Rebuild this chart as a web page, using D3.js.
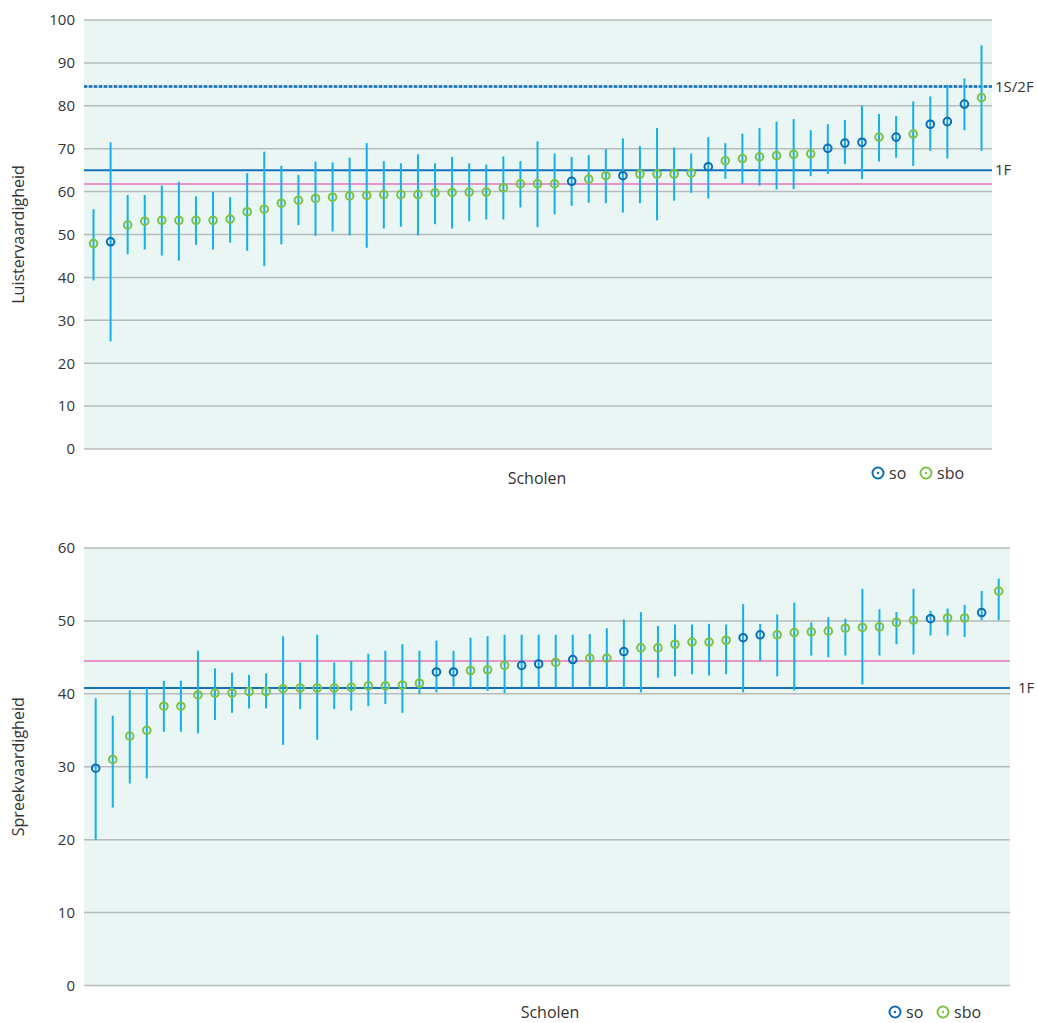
<!DOCTYPE html>
<html><head><meta charset="utf-8">
<script src="https://cdn.jsdelivr.net/npm/d3@7"></script>
<style>body{margin:0;background:#fff;}text{font-family:"Open Sans",sans-serif;fill:#333;}</style>
</head><body>
<svg id="c" width="1037" height="1023"></svg>
<script>
// ---- Data: Luistervaardigheid (top) ----
const luisterMean = [47.9,48.3,52.2,53.1,53.3,53.3,53.3,53.3,53.6,55.3,55.9,57.3,58.0,58.4,58.7,59.0,59.1,59.3,59.3,59.3,59.7,59.8,59.9,59.9,60.9,61.8,61.8,61.8,62.4,62.9,63.7,63.7,64.1,64.1,64.1,64.3,65.8,67.2,67.7,68.1,68.4,68.7,68.8,70.1,71.3,71.5,72.7,72.7,73.4,75.7,76.3,80.4,81.9];
const luisterLow  = [39.3,25.1,45.4,46.5,45.1,43.9,47.6,46.5,48.1,46.2,42.6,47.7,52.2,49.7,50.7,49.8,46.9,51.4,51.8,49.8,52.4,51.4,53.1,53.5,53.5,56.3,51.7,54.7,56.7,57.4,57.3,55.1,57.3,53.3,57.9,59.7,58.4,63.0,61.8,61.4,60.5,60.6,63.6,64.1,66.4,62.9,67.0,67.9,66.0,69.5,67.7,74.3,69.5];
const luisterHigh = [55.9,71.5,59.2,59.2,61.4,62.3,58.9,59.9,58.7,64.3,69.3,66.0,63.9,67.0,66.8,67.9,71.3,67.1,66.6,68.7,66.6,68.1,66.6,66.3,68.2,67.1,71.7,68.9,68.1,68.5,69.9,72.4,70.6,74.8,70.3,68.9,72.7,71.3,73.5,74.8,76.3,76.9,74.3,75.7,76.7,80.0,78.1,77.6,81.0,82.2,84.9,86.4,94.1];
const luisterType = ["sbo","so","sbo","sbo","sbo","sbo","sbo","sbo","sbo","sbo","sbo","sbo","sbo","sbo","sbo","sbo","sbo","sbo","sbo","sbo","sbo","sbo","sbo","sbo","sbo","sbo","sbo","sbo","so","sbo","sbo","so","sbo","sbo","sbo","sbo","so","sbo","sbo","sbo","sbo","sbo","sbo","so","so","so","sbo","so","sbo","so","so","so","sbo"];
const luisterRefs = [{label:"1S/2F", value:84.5, kind:"dash"},{label:"1F", value:65.0, kind:"solid"},{label:"", value:61.8, kind:"pink"}];
const luisterTicks = [0,10,20,30,40,50,60,70,80,90,100];

// ---- Data: Spreekvaardigheid (bottom) ----
const spreekMean = [29.8,31.0,34.2,35.0,38.3,38.3,39.85,40.1,40.1,40.3,40.3,40.7,40.8,40.8,40.8,40.9,41.1,41.1,41.2,41.45,43.0,43.0,43.2,43.3,43.9,43.9,44.1,44.3,44.7,44.9,44.9,45.8,46.3,46.3,46.8,47.1,47.1,47.35,47.7,48.1,48.1,48.4,48.5,48.6,49.0,49.1,49.2,49.8,50.1,50.3,50.4,50.4,51.15,54.1];
const spreekLow  = [20.0,24.4,27.7,28.4,34.8,34.8,34.6,36.4,37.4,38.0,38.0,33.0,37.9,33.7,37.9,37.7,38.3,38.6,37.4,40.0,40.2,41.0,40.8,40.4,40.1,40.9,40.9,40.9,40.9,41.0,40.8,40.8,40.2,42.2,42.4,42.7,42.5,42.7,40.2,44.5,42.4,40.45,45.25,45.0,45.25,41.3,45.25,46.8,45.4,48.0,48.0,47.8,50.1,50.1];
const spreekHigh = [39.4,37.0,40.5,40.8,41.8,41.8,45.9,43.5,42.9,42.6,42.8,47.9,44.3,48.1,44.3,44.5,45.5,45.9,46.8,45.9,47.3,45.9,47.7,47.9,48.1,48.1,48.1,48.1,48.1,48.2,49.0,50.2,51.2,49.3,49.5,49.5,49.6,49.5,52.3,49.6,50.9,52.5,49.8,50.5,50.3,54.4,51.6,51.2,54.4,51.4,51.7,52.2,54.1,55.8];
const spreekType = ["so","sbo","sbo","sbo","sbo","sbo","sbo","sbo","sbo","sbo","sbo","sbo","sbo","sbo","sbo","sbo","sbo","sbo","sbo","sbo","so","so","sbo","sbo","sbo","so","so","sbo","so","sbo","sbo","so","sbo","sbo","sbo","sbo","sbo","sbo","so","so","sbo","sbo","sbo","sbo","sbo","sbo","sbo","sbo","sbo","so","sbo","sbo","so","sbo"];
const spreekRefs = [{label:"1F", value:40.8, kind:"solid"},{label:"", value:44.5, kind:"pink"}];
const spreekTicks = [0,10,20,30,40,50,60];

const legendItems = ["so","sbo"];
const colors = {so:"#0b6db3", sbo:"#7cc13f", whisker:"#12b0ec", grid:"#b7bbbb", bg:"#eaf6f4", ref:"#1670b8", pink:"#eb92c6", dashLight:"#9cc3e6"};

const svg = d3.select("#c");

function drawChart(cfg){
  const {mean, low, high, type, refs, ticks, yMax, x0, x1, y0, y1, xr0, xr1, title, legendX, legendY, scholenX, scholenY, refLabelX} = cfg;
  const g = svg.append("g");
  const y = d3.scaleLinear().domain([0, yMax]).range([y1, y0]);
  const x = d3.scalePoint().domain(d3.range(mean.length)).range([xr0, xr1]);

  g.append("rect").attr("x", x0).attr("y", y0).attr("width", x1 - x0).attr("height", y1 - y0).attr("fill", colors.bg);

  g.selectAll(".grid").data(ticks).enter().append("line")
    .attr("x1", x0).attr("x2", x1).attr("y1", d => y(d)).attr("y2", d => y(d))
    .attr("stroke", colors.grid).attr("stroke-width", 1.5);

  const axis = d3.axisLeft(y).tickValues(ticks).tickSize(0).tickPadding(9);
  const ax = g.append("g").attr("transform", `translate(${x0},0)`).call(axis);
  ax.select(".domain").remove();
  ax.selectAll("text").style("font-size", "15px").style("font-family", '"Open Sans",sans-serif').attr("fill", "#333");

  refs.forEach(r => {
    const yy = y(r.value);
    if (r.kind === "dash") {
      g.append("line").attr("x1", x0).attr("x2", x1).attr("y1", yy).attr("y2", yy).attr("stroke", colors.dashLight).attr("stroke-width", 2.5);
      g.append("line").attr("x1", x0).attr("x2", x1).attr("y1", yy).attr("y2", yy).attr("stroke", colors.ref).attr("stroke-width", 2.5).attr("stroke-dasharray", "3,2");
    } else {
      g.append("line").attr("x1", x0).attr("x2", x1).attr("y1", yy).attr("y2", yy)
        .attr("stroke", r.kind === "pink" ? colors.pink : colors.ref).attr("stroke-width", 2);
    }
    if (r.label) {
      g.append("text").attr("x", refLabelX).attr("y", yy).attr("dy", "0.35em").style("font-size", "15px").text(r.label);
    }
  });

  g.selectAll(".wh").data(mean).enter().append("line")
    .attr("x1", (d,i) => x(i)).attr("x2", (d,i) => x(i))
    .attr("y1", (d,i) => y(high[i])).attr("y2", (d,i) => y(low[i]))
    .attr("stroke", colors.whisker).attr("stroke-width", 2);

  g.selectAll(".pt").data(mean).enter().append("circle")
    .attr("cx", (d,i) => x(i)).attr("cy", d => y(d)).attr("r", 3.8)
    .attr("fill", "none").attr("stroke", (d,i) => colors[type[i]]).attr("stroke-width", 2);

  g.append("text").attr("transform", `translate(${24},${(y0+y1)/2}) rotate(-90)`)
    .attr("text-anchor", "middle").style("font-size", "16px").text(title);

  g.append("text").attr("x", scholenX).attr("y", scholenY).attr("text-anchor", "middle").style("font-size", "16px").text("Scholen");

  let lx = legendX;
  legendItems.forEach(k => {
    g.append("circle").attr("cx", lx).attr("cy", legendY).attr("r", 5.5).attr("fill", "none").attr("stroke", colors[k]).attr("stroke-width", 2);
    g.append("circle").attr("cx", lx).attr("cy", legendY).attr("r", 1.2).attr("fill", colors[k]);
    g.append("text").attr("x", lx + 11).attr("y", legendY).attr("dy", "0.35em").style("font-size", "16px").text(k);
    lx += 48;
  });
}

drawChart({mean:luisterMean, low:luisterLow, high:luisterHigh, type:luisterType, refs:luisterRefs, ticks:luisterTicks, yMax:100,
  x0:84, x1:992, y0:20, y1:449, xr0:93.5, xr1:981.5, title:"Luistervaardigheid",
  legendX:878, legendY:473, scholenX:537, scholenY:484, refLabelX:995});

drawChart({mean:spreekMean, low:spreekLow, high:spreekHigh, type:spreekType, refs:spreekRefs, ticks:spreekTicks, yMax:60,
  x0:84, x1:1010, y0:548, y1:985.5, xr0:95.7, xr1:998.7, title:"Spreekvaardigheid",
  legendX:895, legendY:1012, scholenX:550, scholenY:1018, refLabelX:1018});
</script>
</body></html>
